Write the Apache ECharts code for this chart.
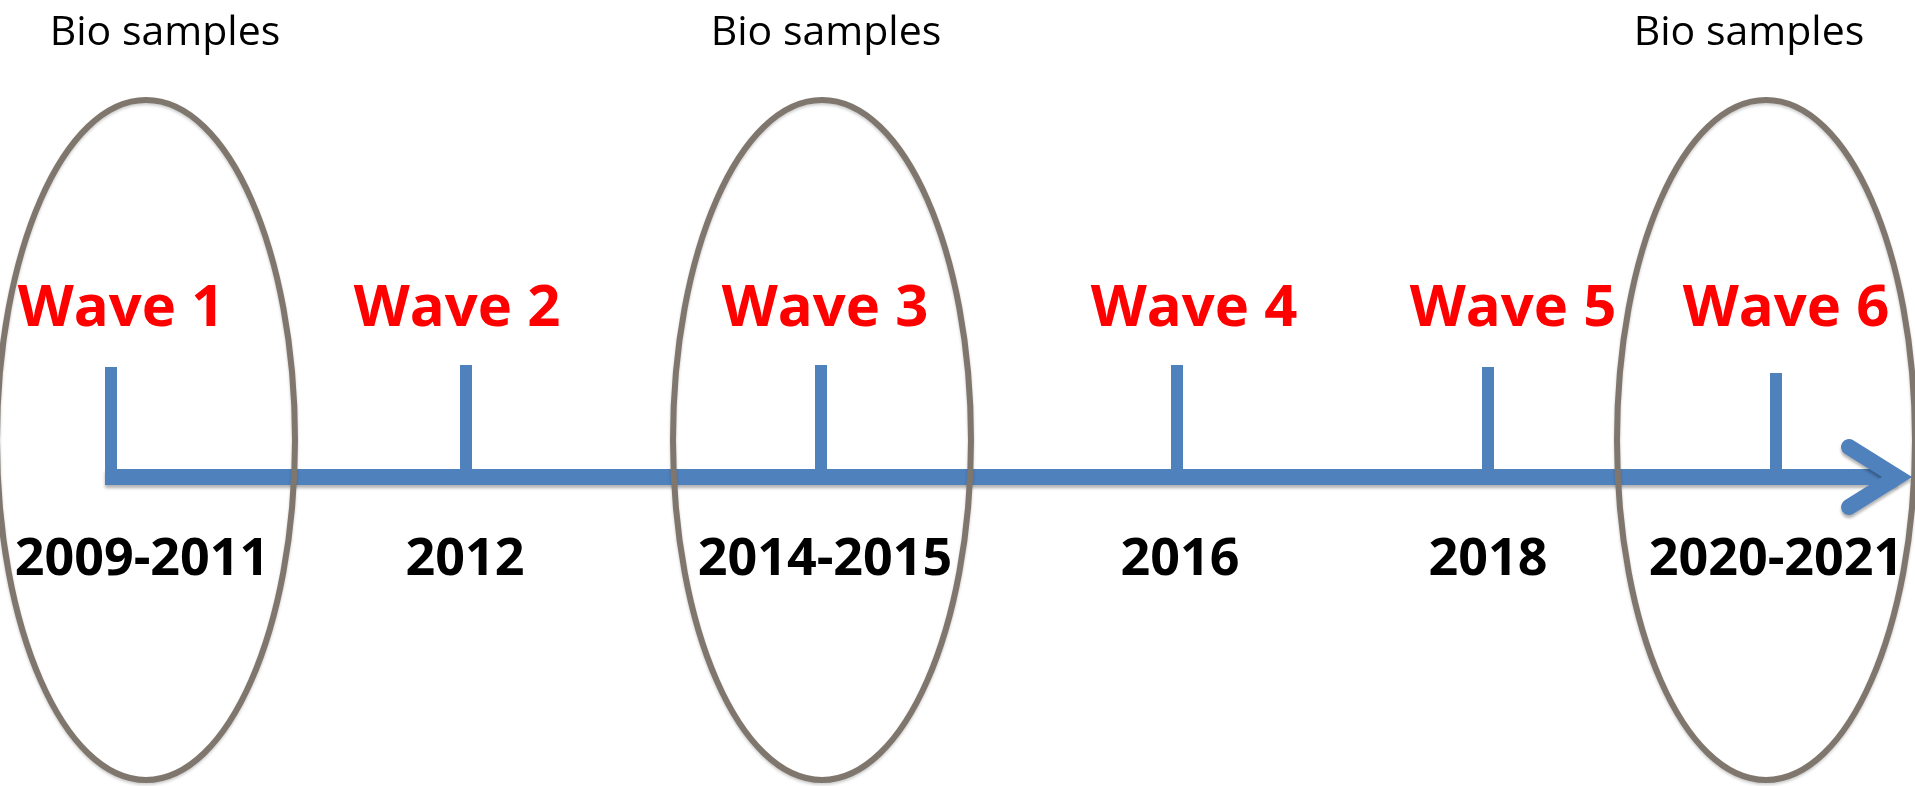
<!DOCTYPE html>
<html>
<head>
<meta charset="utf-8">
<title>Study waves</title>
<style>
  html, body { margin: 0; padding: 0; background: #fff; }
  #main { width: 1915px; height: 786px; }
</style>
</head>
<body>
<div id="main"></div>
<script src="https://cdn.jsdelivr.net/npm/echarts@6/dist/echarts.min.js"></script>
<script>
// data
var waves = ['Wave 1', 'Wave 2', 'Wave 3', 'Wave 4', 'Wave 5', 'Wave 6'];
var years = ['2009-2011', '2012', '2014-2015', '2016', '2018', '2020-2021'];
// position of each wave along the timeline
var wavePos = [111, 466, 821, 1177, 1488, 1776];
// waves where bio samples were taken (circled)
var bioWaves = [0, 2, 5];
var bioLabel = 'Bio samples';
var timeline = [105, 1897];

// layout / style
var blue = '#4f81bd';
var gray = '#7f776d';
var tickLen = [110, 112, 112, 112, 110, 104];
var waveNudge = [10, -9, 4, 17, 25, 10];
var yearNudge = [31, -1, 4, 3, 0, 0];
var ringNudge = [35, 1, -10];
var bioNudge = [54, 5, -27];
var rowWave = 168, rowYear = -83, rowBio = 444, rowRing = 37;
var ringRx = 149, ringRy = 340;
var arrowDx = 48, arrowDy = 30;

var myChart = echarts.init(document.getElementById('main'));

function textSeries(items, font, color) {
	return {
		type: 'custom',
		coordinateSystem: 'cartesian2d',
		silent: true,
		clip: false,
		z: 10,
		data: items.map(function (it) { return [it.x, it.y]; }),
		renderItem: function (params, api) {
			var p = api.coord([api.value(0), api.value(1)]);
			return {
				type: 'text',
				x: p[0],
				y: p[1],
				style: {
					text: items[params.dataIndex].text,
					fill: color,
					font: font,
					textAlign: 'center',
					textVerticalAlign: 'middle'
				}
			};
		}
	};
}

var waveItems = waves.map(function (w, i) {
	return { text: w, x: wavePos[i] + waveNudge[i], y: rowWave };
});
var yearItems = years.map(function (y, i) {
	return { text: y, x: wavePos[i] + yearNudge[i], y: rowYear };
});
var bioItems = bioWaves.map(function (w, i) {
	return { text: bioLabel, x: wavePos[w] + bioNudge[i], y: rowBio };
});

var option = {
	animation: false,
	backgroundColor: '#fff',
	grid: { left: 0, right: 0, top: 0, bottom: 0 },
	xAxis: { type: 'value', min: 0, max: 1915, show: false },
	yAxis: { type: 'value', min: -309, max: 477, show: false },
	series: [
		{
			// main timeline
			type: 'line',
			silent: true,
			showSymbol: false,
			z: 2,
			data: [[timeline[0], 0], [timeline[1], 0]],
			lineStyle: {
				color: blue, width: 16, cap: 'butt',
				shadowColor: 'rgba(0,0,0,0.3)', shadowBlur: 3, shadowOffsetY: 3
			}
		},
		{
			// arrow head
			type: 'line',
			silent: true,
			showSymbol: false,
			z: 2,
			data: [
				[timeline[1] - arrowDx, arrowDy],
				[timeline[1], 0],
				[timeline[1] - arrowDx, -arrowDy]
			],
			lineStyle: {
				color: blue, width: 16, cap: 'round', join: 'miter',
				shadowColor: 'rgba(0,0,0,0.3)', shadowBlur: 3, shadowOffsetY: 3
			}
		},
		{
			// wave ticks
			type: 'bar',
			silent: true,
			z: 3,
			barWidth: 12,
			data: wavePos.map(function (x, i) { return [x, tickLen[i]]; }),
			itemStyle: { color: blue }
		},
		{
			// bio sample rings
			type: 'custom',
			coordinateSystem: 'cartesian2d',
			silent: true,
			clip: false,
			z: 5,
			data: bioWaves.map(function (w, i) { return [wavePos[w] + ringNudge[i], rowRing]; }),
			renderItem: function (params, api) {
				var c = api.coord([api.value(0), api.value(1)]);
				return {
					type: 'ellipse',
					shape: { cx: c[0], cy: c[1], rx: ringRx, ry: ringRy },
					style: {
						fill: 'none', stroke: gray, lineWidth: 6,
						shadowColor: 'rgba(0,0,0,0.2)', shadowBlur: 3, shadowOffsetY: 2
					}
				};
			}
		},
		textSeries(waveItems, 'bold 58px "Open Sans"', '#ff0000'),
		textSeries(yearItems, 'bold 52px "Open Sans"', '#000'),
		textSeries(bioItems, '41px "Open Sans"', '#000')
	]
};

myChart.setOption(option);
</script>
</body>
</html>
